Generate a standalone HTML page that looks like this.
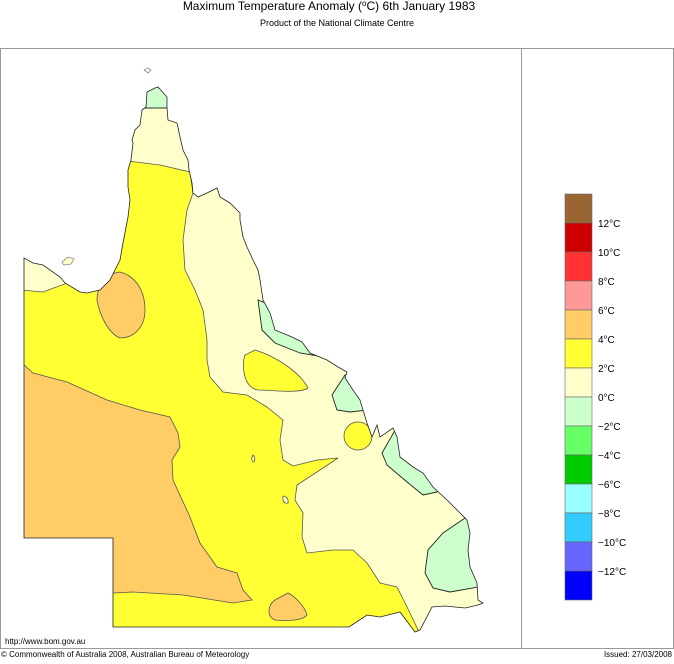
<!DOCTYPE html>
<html><head><meta charset="utf-8"><style>
body{margin:0;background:#fff;width:674px;height:659px;overflow:hidden;font-family:"Liberation Sans",Arial,sans-serif}
</style></head><body>
<svg width="674" height="659" viewBox="0 0 674 659" xmlns="http://www.w3.org/2000/svg" font-family="Liberation Sans, Arial, sans-serif">
<text x="329" y="10" font-size="12" text-anchor="middle">Maximum Temperature Anomaly (<tspan dy="-4" font-size="8">o</tspan><tspan dy="4">C)  6th January 1983</tspan></text>
<text x="337" y="26" font-size="9" text-anchor="middle">Product of the National Climate Centre</text>
<rect x="0.5" y="48.5" width="673" height="600" fill="none" stroke="#999" stroke-width="1"/>
<line x1="521.5" y1="48" x2="521.5" y2="648" stroke="#999"/>
<defs><clipPath id="q"><path id="qp" d="M147,92 L155,88 158,87 167,97 167,108 168,120 177,123 180,137 183,150 188,160 189,170 192,183 193,193 198,197 207,193 217,188 220,197 230,203 240,213 240,220 243,237 247,247 253,260 258,270 260,280 263,300 270,313 275,330 292,337 302,342 310,353 327,360 338,367 347,372 345,378 353,390 360,400 363,410 367,423 372,437 377,425 380,437 393,428 397,437 400,457 413,467 423,473 433,487 447,500 460,513 467,520 470,533 468,550 470,567 477,583 478,600 483,603 478,605 465,608 445,606 432,607 420,630 415,632 400,612 380,617 367,615 349,627 113,627 113,538 24,538 24,258 33,263 43,265 60,277 65,283 80,292 87,293 100,290 110,280 120,260 123,243 128,217 130,200 128,187 128,170 131,160 133,143 132,140 135,130 140,125 142,110 146,107 Z"/></clipPath></defs>
<g clip-path="url(#q)">
<rect x="0" y="50" width="520" height="600" fill="#ffffcc"/>
<g stroke="#555" stroke-width="0.8">
<path fill="#ffff33" d="M0,288 L43,292 70,282 100,200 120,160 160,165 190,172 193,193 187,210 183,240 185,270 195,290 203,310 207,340 207,360 210,377 223,392 247,395 267,407 283,420 280,440 283,460 293,466 317,460 338,458 320,470 297,485 295,500 303,513 302,537 307,553 333,550 353,550 367,563 380,583 397,587 410,613 418,630 418,640 0,640 Z"/>
<path fill="#ffffcc" d="M253,455 Q256,458 254,462 Q250,460 253,455 Z"/>
<path fill="#ffffcc" d="M283,496 Q289,497 288,503 Q282,504 283,496 Z"/>
<path fill="#ffff33" d="M255,350 C275,356 300,372 308,388 C300,394 270,390 258,390 C244,388 241,366 245,355 Z"/>
<circle cx="358" cy="436" r="14" fill="#ffff33"/>
<path fill="#ffcc66" d="M120,272 C135,276 145,290 145,310 C145,326 135,338 120,338 C110,334 100,318 97,300 C97,285 108,273 120,272 Z"/>
<path fill="#ffcc66" d="M0,362 L24,365 33,373 67,382 107,400 140,410 170,417 178,433 180,447 172,460 173,480 190,517 200,543 217,567 237,573 243,590 252,600 233,603 183,595 133,592 113,593 0,600 Z"/>
<path fill="#ffcc66" d="M288,593 C296,597 305,607 307,615 C303,621 285,621 275,620 C266,616 268,605 275,600 Z"/>
</g>
<g stroke="#222" stroke-width="0.9" fill="#ccffcc">
<rect x="130" y="60" width="50" height="48"/>
<path d="M258,300 L262,330 275,343 300,353 318,356 330,330 Z"/>
<path d="M345,375 L332,395 337,410 350,412 368,410 380,390 360,370 Z"/>
<path d="M398,425 L382,453 387,465 407,482 423,495 437,492 445,470 420,430 Z"/>
<path d="M468,516 L443,533 428,550 425,573 433,588 450,592 490,585 495,515 Z"/>
</g>
</g>
<use href="#qp" fill="none" stroke="#222" stroke-width="0.8"/>
<g stroke="#666" stroke-width="0.6">
<path d="M144,70 l4,-2 3,2 -3,3 Z" fill="#fff"/>
<path d="M62,262 l6,-5 6,2 -3,5 -7,1 Z" fill="#ffffcc"/>
</g>
<g stroke="#666" stroke-width="0.6">
<rect x="565" y="194" width="27" height="29" fill="#996633"/>
<rect x="565" y="223" width="27" height="29" fill="#cc0000"/>
<rect x="565" y="252" width="27" height="29" fill="#ff3333"/>
<rect x="565" y="281" width="27" height="29" fill="#ff9999"/>
<rect x="565" y="310" width="27" height="29" fill="#ffcc66"/>
<rect x="565" y="339" width="27" height="29" fill="#ffff33"/>
<rect x="565" y="368" width="27" height="29" fill="#ffffcc"/>
<rect x="565" y="397" width="27" height="29" fill="#ccffcc"/>
<rect x="565" y="426" width="27" height="29" fill="#66ff66"/>
<rect x="565" y="455" width="27" height="29" fill="#00cc00"/>
<rect x="565" y="484" width="27" height="29" fill="#99ffff"/>
<rect x="565" y="513" width="27" height="29" fill="#33ccff"/>
<rect x="565" y="542" width="27" height="29" fill="#6666ff"/>
<rect x="565" y="571" width="27" height="29" fill="#0000ff"/>
</g>
<g font-size="10">
<text x="598" y="227">12°C</text>
<text x="598" y="256">10°C</text>
<text x="598" y="285">8°C</text>
<text x="598" y="314">6°C</text>
<text x="598" y="343">4°C</text>
<text x="598" y="372">2°C</text>
<text x="598" y="401">0°C</text>
<text x="598" y="430">−2°C</text>
<text x="598" y="459">−4°C</text>
<text x="598" y="488">−6°C</text>
<text x="598" y="517">−8°C</text>
<text x="598" y="546">−10°C</text>
<text x="598" y="575">−12°C</text>
</g>
<text x="5" y="644" font-size="8">http://www.bom.gov.au</text>
<text x="1" y="657" font-size="8">© Commonwealth of Australia 2008, Australian Bureau of Meteorology</text>
<text x="672" y="657" font-size="8" text-anchor="end">Issued: 27/03/2008</text>
</svg>
</body></html>
